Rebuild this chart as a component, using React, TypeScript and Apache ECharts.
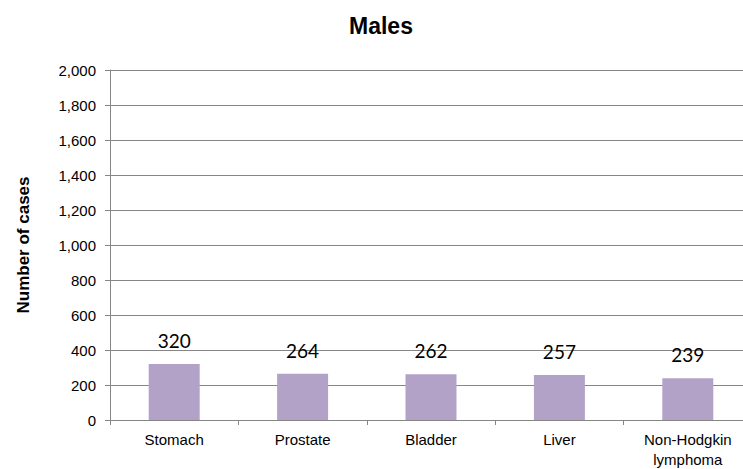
import React, { useEffect, useRef } from "react";
import * as echarts from "echarts";

const categories = ["Stomach", "Prostate", "Bladder", "Liver", "Non-Hodgkin\nlymphoma"];
const values = [320, 264, 262, 257, 239];
const titleText = "Males";
const yAxisName = "Number of cases";

export default function App() {
  const ref = useRef<HTMLDivElement>(null);
  useEffect(() => {
    if (!ref.current) return;
    const chart = echarts.init(ref.current, null, { renderer: "svg" });
    chart.setOption({
      animation: false,
      backgroundColor: "#ffffff",
      title: {
        text: titleText,
        left: 344,
        top: 9,
        textStyle: {
          fontFamily: "'Liberation Sans', Arial, sans-serif",
          fontWeight: "bold",
          fontSize: 23,
          color: "#000",
        },
      },
      grid: { left: 110, right: 0, top: 70, bottom: 46, containLabel: false },
      xAxis: {
        type: "category",
        data: categories,
        axisLine: { show: true, lineStyle: { color: "#868686", width: 1 } },
        axisTick: { show: true, length: 5, lineStyle: { color: "#868686" } },
        axisLabel: {
          interval: 0,
          margin: 9,
          color: "#000",
          fontSize: 15,
          lineHeight: 20,
          fontFamily: "'Liberation Sans', Arial, sans-serif",
        },
      },
      yAxis: {
        type: "value",
        min: 0,
        max: 2000,
        interval: 200,
        name: yAxisName,
        nameLocation: "middle",
        nameRotate: 90,
        nameGap: 78,
        nameTextStyle: {
          fontFamily: "'Liberation Sans', Arial, sans-serif",
          fontWeight: "bold",
          fontSize: 17,
          color: "#000",
        },
        axisLine: { show: true, lineStyle: { color: "#868686", width: 1 } },
        axisTick: { show: true, length: 5, lineStyle: { color: "#868686" } },
        splitLine: { show: true, lineStyle: { color: "#868686", width: 1 } },
        axisLabel: {
          margin: 14,
          color: "#000",
          fontSize: 15,
          fontFamily: "'Liberation Sans', Arial, sans-serif",
          formatter: (v: number) => v.toLocaleString("en-US"),
        },
      },
      series: [
        {
          type: "bar",
          data: values,
          barWidth: 51,
          itemStyle: { color: "#B3A2C7" },
          label: {
            show: true,
            position: "top",
            distance: 14,
            color: "#000",
            fontSize: 19,
            fontFamily: "Lato, 'Open Sans', sans-serif",
          },
        },
      ],
    });
    return () => chart.dispose();
  }, []);
  return (
    <div
      style={{
        position: "absolute",
        left: 0,
        top: 0,
        width: 743,
        height: 469,
        overflow: "hidden",
        background: "#fff",
      }}
    >
      <div ref={ref} style={{ width: 752, height: 469 }} />
    </div>
  );
}
